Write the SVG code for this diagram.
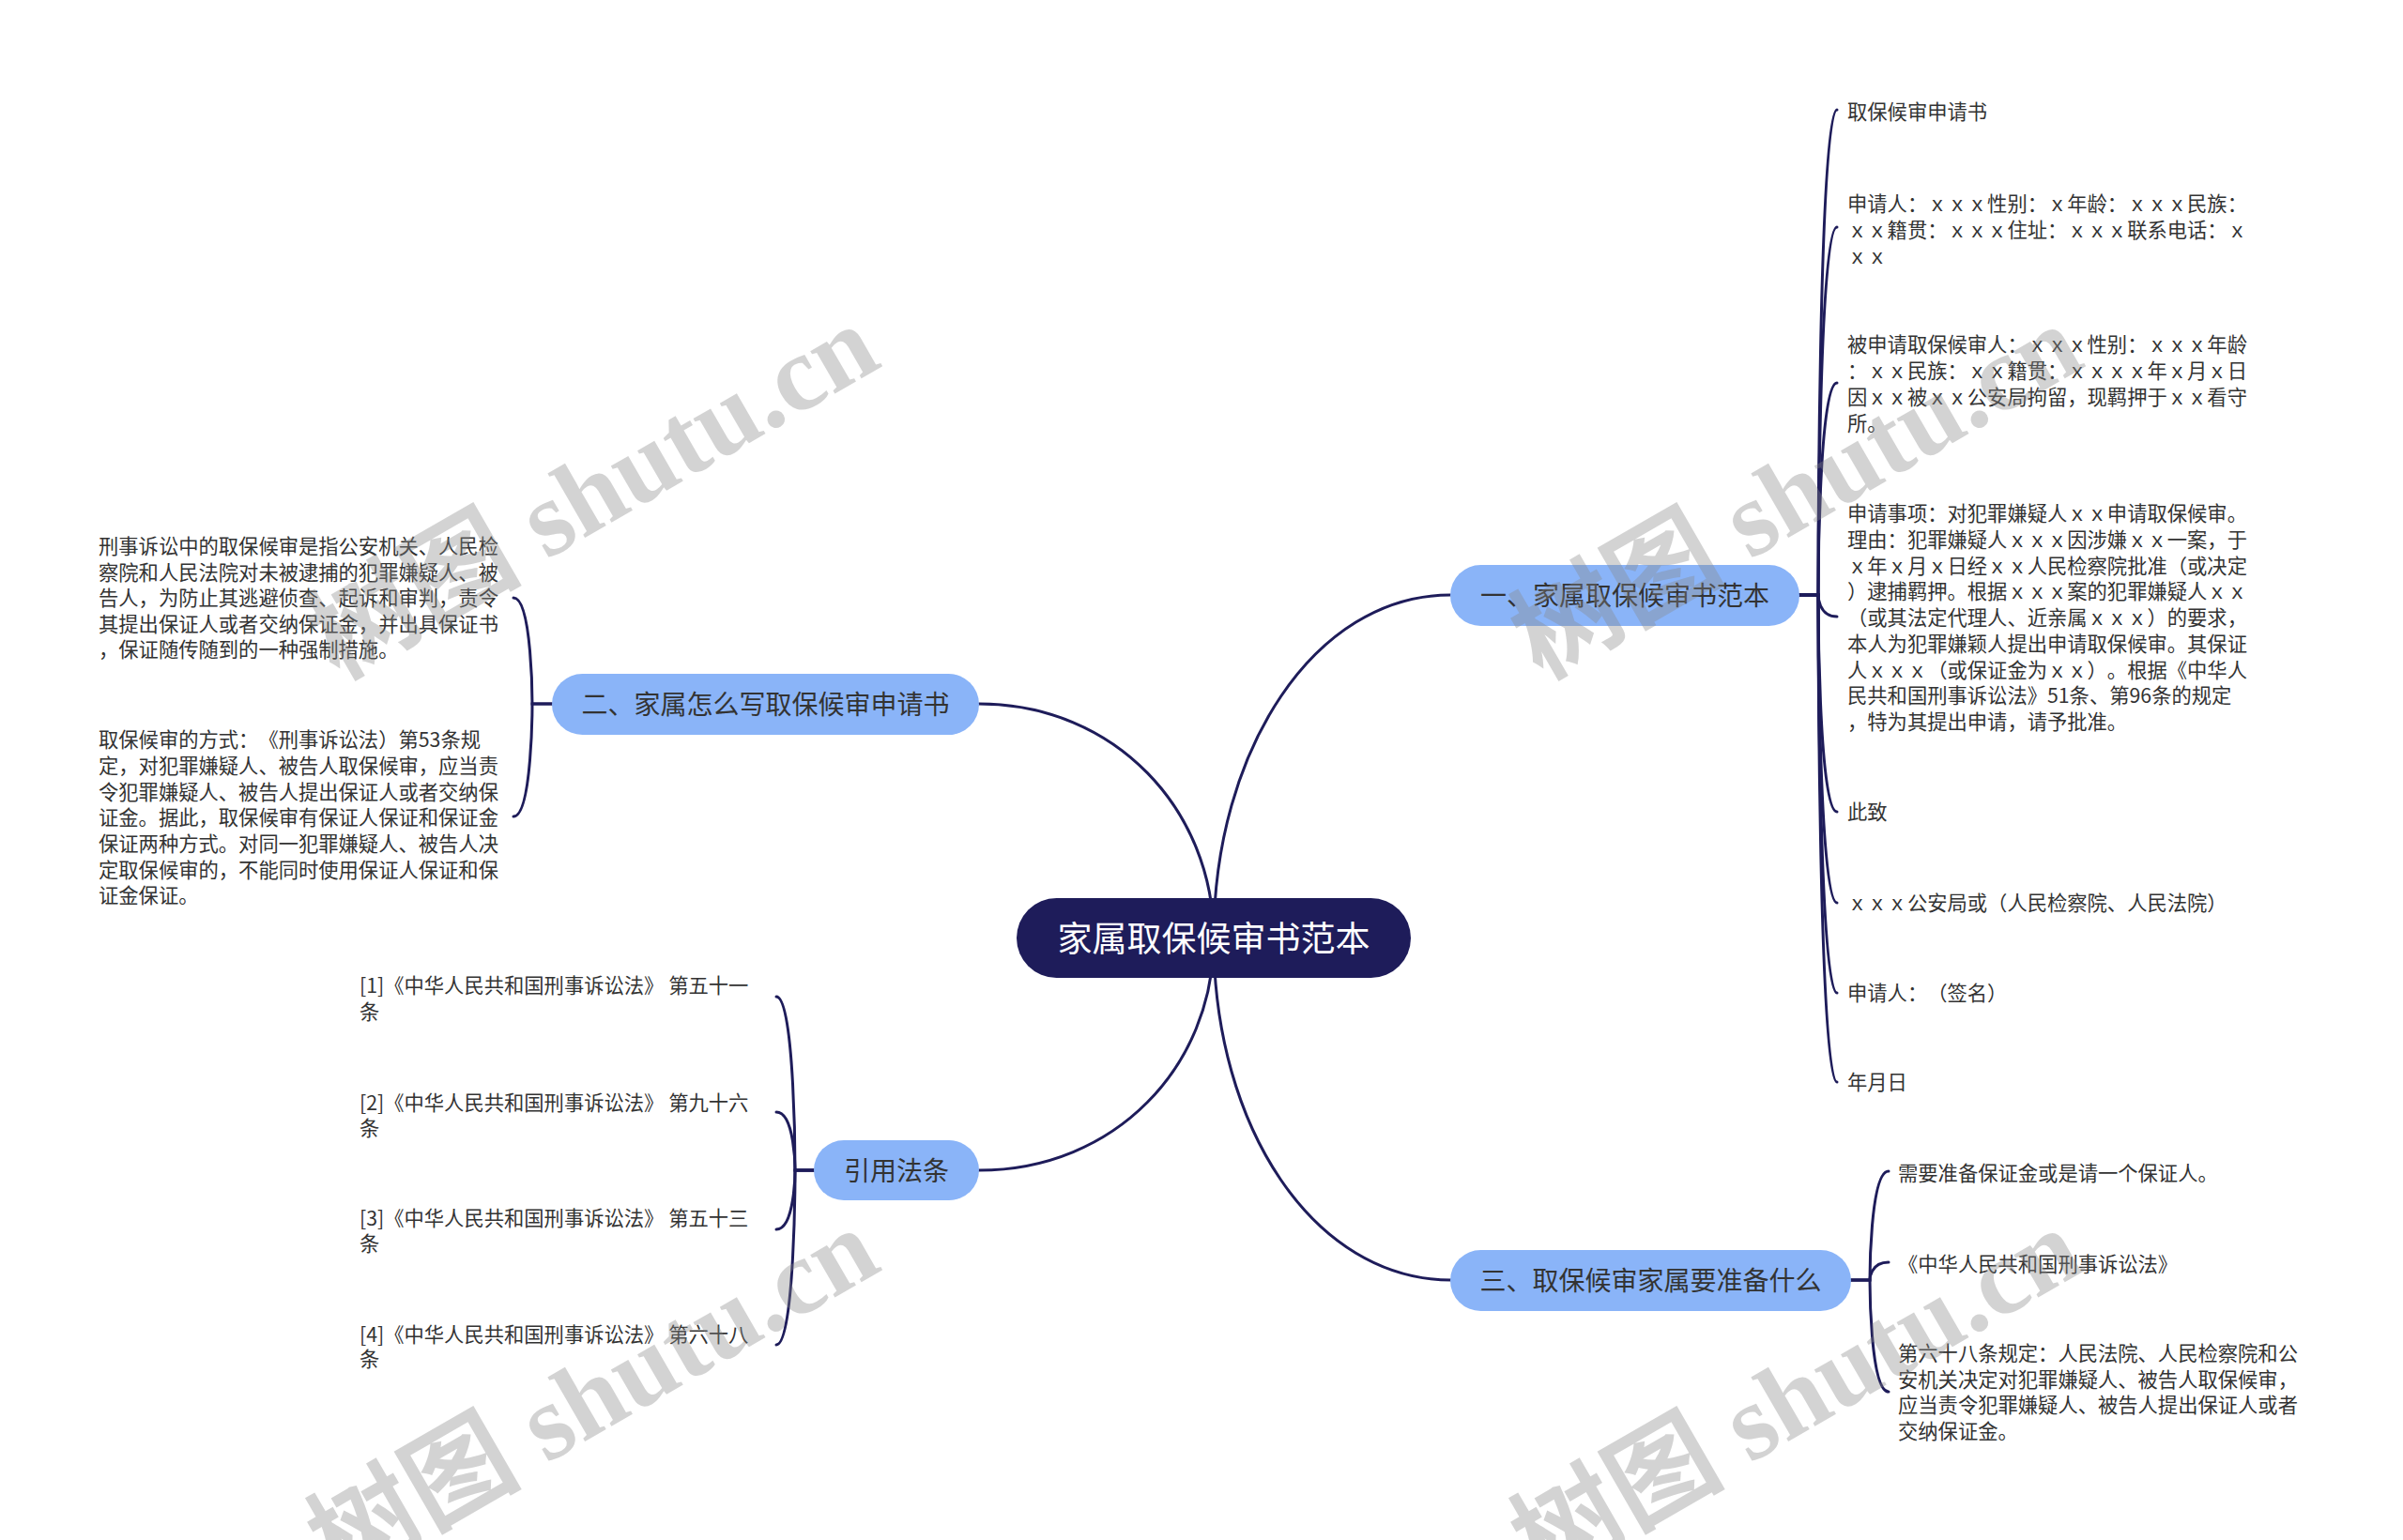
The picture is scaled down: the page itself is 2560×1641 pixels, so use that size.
<svg xmlns="http://www.w3.org/2000/svg" width="2560" height="1641" viewBox="0 0 2560 1641">
<style>
text{font-family:"Noto Sans CJK SC","Liberation Sans",sans-serif;text-spacing-trim:space-all}
.leaf{font-size:21.3px;fill:#333}
.branch{font-size:28px;fill:#333;text-anchor:middle}
.root{font-size:37px;fill:#fff;text-anchor:middle}
.bnode{fill:#8ab4f8}
.rnode{fill:#1e1c5a}
.line{fill:none;stroke:#1e1c5a;stroke-width:3;stroke-linecap:round}
.wm{font-family:"Liberation Serif","Noto Sans CJK SC",serif;font-size:114px;font-weight:bold;fill:#888;opacity:0.36}
</style>
<rect width="2560" height="1641" fill="#fff"/>
<g id="connectors">
<path class="line" d="M1293,1000 C1293,800 1400,634 1545,634"/>
<path class="line" d="M1293,1000 C1293,863 1188,750 1043,750"/>
<path class="line" d="M1293,1000 C1293,1136 1188,1247 1043,1247"/>
<path class="line" d="M1293,1000 C1293,1200 1399,1364 1546,1364"/>
<path class="line" d="M1917,634 L1937,634 C1937,634 1937,117 1957,117"/>
<path class="line" d="M1917,634 L1937,634 C1937,634 1937,242 1957,242"/>
<path class="line" d="M1917,634 L1937,634 C1937,634 1937,408 1957,408"/>
<path class="line" d="M1917,634 L1937,634 C1937,634 1937,657 1957,657"/>
<path class="line" d="M1917,634 L1937,634 C1937,634 1937,865 1957,865"/>
<path class="line" d="M1917,634 L1937,634 C1937,634 1937,962 1957,962"/>
<path class="line" d="M1917,634 L1937,634 C1937,634 1937,1058 1957,1058"/>
<path class="line" d="M1917,634 L1937,634 C1937,634 1937,1153 1957,1153"/>
<path class="line" d="M1972,1364 L1992,1364 C1992,1364 1992,1248 2012,1248"/>
<path class="line" d="M1972,1364 L1992,1364 C1992,1364 1992,1345 2012,1345"/>
<path class="line" d="M1972,1364 L1992,1364 C1992,1364 1992,1483 2012,1483"/>
<path class="line" d="M588,750 L567,750 C567,750 567,637 547,637"/>
<path class="line" d="M588,750 L567,750 C567,750 567,870 547,870"/>
<path class="line" d="M867,1247 L847,1247 C847,1247 847,1062 827,1062"/>
<path class="line" d="M867,1247 L847,1247 C847,1247 847,1185 827,1185"/>
<path class="line" d="M867,1247 L847,1247 C847,1247 847,1310 827,1310"/>
<path class="line" d="M867,1247 L847,1247 C847,1247 847,1433 827,1433"/>
</g>
<g id="root">
<rect class="rnode" x="1083" y="957" width="420" height="85" rx="42.5"/>
<text class="root" x="1293" y="1014">家属取保候审书范本</text>
</g>
<g id="branch1">
<rect class="bnode" x="1545" y="602" width="372" height="65" rx="32.5"/>
<text class="branch" x="1731" y="645">一、家属取保候审书范本</text>
</g>
<g id="branch2">
<rect class="bnode" x="588" y="718" width="455" height="65" rx="32.5"/>
<text class="branch" x="815.5" y="761">二、家属怎么写取保候审申请书</text>
</g>
<g id="branch3">
<rect class="bnode" x="1545" y="1332" width="427" height="65" rx="32.5"/>
<text class="branch" x="1758.5" y="1375">三、取保候审家属要准备什么</text>
</g>
<g id="branch4">
<rect class="bnode" x="867" y="1215" width="176" height="64" rx="32"/>
<text class="branch" x="955" y="1258">引用法条</text>
</g>
<g id="leaf1-1"><text class="leaf" x="1968" y="127">取保候审申请书</text></g>
<g id="leaf1-2"><text class="leaf"><tspan x="1968" y="225">申请人：ｘｘｘ性别：ｘ年龄：ｘｘｘ民族：</tspan><tspan x="1968" y="253">ｘｘ籍贯：ｘｘｘ住址：ｘｘｘ联系电话：ｘ</tspan><tspan x="1968" y="281">ｘｘ</tspan></text></g>
<g id="leaf1-3"><text class="leaf"><tspan x="1968" y="375">被申请取保候审人：ｘｘｘ性别：ｘｘｘ年龄</tspan><tspan x="1968" y="403">：ｘｘ民族：ｘｘ籍贯：ｘｘｘｘ年ｘ月ｘ日</tspan><tspan x="1968" y="431">因ｘｘ被ｘｘ公安局拘留，现羁押于ｘｘ看守</tspan><tspan x="1968" y="459">所。</tspan></text></g>
<g id="leaf1-4"><text class="leaf"><tspan x="1968" y="555">申请事项：对犯罪嫌疑人ｘｘ申请取保候审。</tspan><tspan x="1968" y="583">理由：犯罪嫌疑人ｘｘｘ因涉嫌ｘｘ一案，于</tspan><tspan x="1968" y="611">ｘ年ｘ月ｘ日经ｘｘ人民检察院批准（或决定</tspan><tspan x="1968" y="638">）逮捕羁押。根据ｘｘｘ案的犯罪嫌疑人ｘｘ</tspan><tspan x="1968" y="666">（或其法定代理人、近亲属ｘｘｘ）的要求，</tspan><tspan x="1968" y="694">本人为犯罪嫌颖人提出申请取保候审。其保证</tspan><tspan x="1968" y="722">人ｘｘｘ（或保证金为ｘｘ）。根据《中华人</tspan><tspan x="1968" y="749">民共和国刑事诉讼法》51条、第96条的规定</tspan><tspan x="1968" y="777">，特为其提出申请，请予批准。</tspan></text></g>
<g id="leaf1-5"><text class="leaf" x="1968" y="873">此致</text></g>
<g id="leaf1-6"><text class="leaf" x="1968" y="970">ｘｘｘ公安局或（人民检察院、人民法院）</text></g>
<g id="leaf1-7"><text class="leaf" x="1968" y="1066">申请人：（签名）</text></g>
<g id="leaf1-8"><text class="leaf" x="1968" y="1161">年月日</text></g>
<g id="leaf3-1"><text class="leaf" x="2022" y="1258">需要准备保证金或是请一个保证人。</text></g>
<g id="leaf3-2"><text class="leaf" x="2022" y="1355">《中华人民共和国刑事诉讼法》</text></g>
<g id="leaf3-3"><text class="leaf"><tspan x="2022" y="1450">第六十八条规定：人民法院、人民检察院和公</tspan><tspan x="2022" y="1478">安机关决定对犯罪嫌疑人、被告人取保候审，</tspan><tspan x="2022" y="1505">应当责令犯罪嫌疑人、被告人提出保证人或者</tspan><tspan x="2022" y="1533">交纳保证金。</tspan></text></g>
<g id="leaf2-1"><text class="leaf"><tspan x="105" y="590">刑事诉讼中的取保候审是指公安机关、人民检</tspan><tspan x="105" y="618">察院和人民法院对未被逮捕的犯罪嫌疑人、被</tspan><tspan x="105" y="645">告人，为防止其逃避侦查、起诉和审判，责令</tspan><tspan x="105" y="673">其提出保证人或者交纳保证金，并出具保证书</tspan><tspan x="105" y="700">，保证随传随到的一种强制措施。</tspan></text></g>
<g id="leaf2-2"><text class="leaf"><tspan x="105" y="796">取保候审的方式：《刑事诉讼法）第53条规</tspan><tspan x="105" y="824">定，对犯罪嫌疑人、被告人取保候审，应当责</tspan><tspan x="105" y="852">令犯罪嫌疑人、被告人提出保证人或者交纳保</tspan><tspan x="105" y="879">证金。据此，取保候审有保证人保证和保证金</tspan><tspan x="105" y="907">保证两种方式。对同一犯罪嫌疑人、被告人决</tspan><tspan x="105" y="935">定取保候审的，不能同时使用保证人保证和保</tspan><tspan x="105" y="962">证金保证。</tspan></text></g>
<g id="leaf4-1"><text class="leaf"><tspan x="383" y="1058">[1]《中华人民共和国刑事诉讼法》 第五十一</tspan><tspan x="383" y="1086">条</tspan></text></g>
<g id="leaf4-2"><text class="leaf"><tspan x="383" y="1183">[2]《中华人民共和国刑事诉讼法》 第九十六</tspan><tspan x="383" y="1210">条</tspan></text></g>
<g id="leaf4-3"><text class="leaf"><tspan x="383" y="1306">[3]《中华人民共和国刑事诉讼法》 第五十三</tspan><tspan x="383" y="1333">条</tspan></text></g>
<g id="leaf4-4"><text class="leaf"><tspan x="383" y="1430">[4]《中华人民共和国刑事诉讼法》 第六十八</tspan><tspan x="383" y="1456">条</tspan></text></g>
<g id="watermarks">
<text class="wm" transform="translate(360,725) rotate(-30)">树图 shutu.cn</text>
<text class="wm" transform="translate(1642,725) rotate(-30)">树图 shutu.cn</text>
<text class="wm" transform="translate(360,1688) rotate(-30)">树图 shutu.cn</text>
<text class="wm" transform="translate(1642,1688) rotate(-30)">树图 shutu.cn</text>
</g>
</svg>
